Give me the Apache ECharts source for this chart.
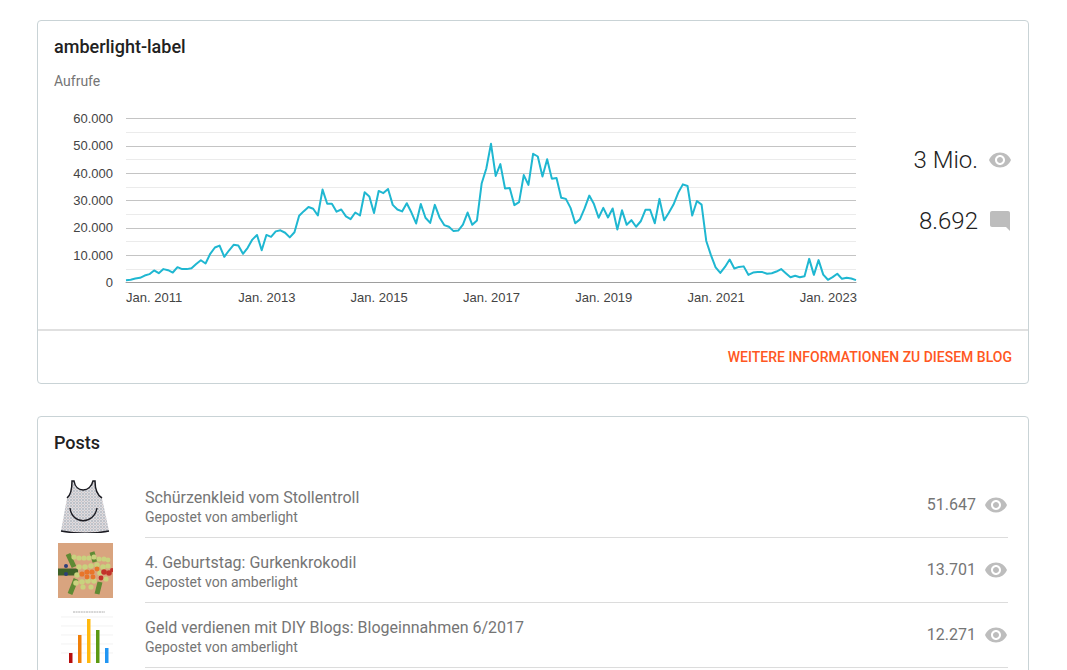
<!DOCTYPE html>
<html>
<head>
<meta charset="utf-8">
<title>amberlight-label</title>
<script src="https://cdn.jsdelivr.net/npm/echarts@6/dist/echarts.min.js"></script>
<style>
html,body{margin:0;padding:0;background:#fff;width:1067px;height:670px;overflow:hidden;font-family:Roboto,sans-serif;}
.abs{position:absolute;white-space:nowrap;}
.card{position:absolute;left:37px;width:990px;border:1px solid #c9d3d6;border-radius:4px;box-sizing:content-box;}
.title{font-size:18px;font-weight:500;color:#212121;line-height:20px;}
.gray{color:#757575;}
.eye{position:absolute;fill:#bdbdbd;}
.line{position:absolute;height:1px;background:#dcdcdc;}
</style>
</head>
<body>
<svg width="0" height="0" style="position:absolute">
  <symbol id="eye" viewBox="0 0 24 24"><path d="M12 4.5C7 4.5 2.73 7.61 1 12c1.73 4.39 6 7.5 11 7.5s9.27-3.11 11-7.5c-1.73-4.39-6-7.5-11-7.5zM12 17c-2.76 0-5-2.24-5-5s2.24-5 5-5 5 2.24 5 5-2.24 5-5 5zm0-8c-1.66 0-3 1.34-3 3s1.34 3 3 3 3-1.34 3-3-1.34-3-3-3z"/></symbol>
  <pattern id="dots" width="3" height="3" patternUnits="userSpaceOnUse">
    <rect width="3" height="3" fill="#dcdde0"/><circle cx="1" cy="1" r="0.7" fill="#8f93a0"/><circle cx="2.4" cy="2.3" r="0.4" fill="#b98f8f"/>
  </pattern>
</svg>

<div class="card" style="top:20px;height:362px;"></div>
<div class="abs title" style="left:54px;top:37px;">amberlight-label</div>
<div class="abs gray" style="left:54px;top:73px;font-size:14px;line-height:16px;">Aufrufe</div>
<div id="echarts_line" style="position:absolute;left:0;top:100px;width:1067px;height:210px;"></div>

<div class="abs" id="total_views" style="right:89px;top:146px;font-size:24px;font-weight:300;color:#212121;line-height:28px;"></div>
<svg class="eye" style="left:988px;top:148px;" width="24" height="24"><use href="#eye"/></svg>
<div class="abs" id="total_comments" style="right:89px;top:207px;font-size:24px;font-weight:300;color:#212121;line-height:28px;"></div>
<svg class="eye" style="left:988px;top:209px;" width="24" height="24"><path d="M22 4c0-1.1-.9-2-2-2H4c-1.1 0-2 .9-2 2v12c0 1.1.9 2 2 2h14l4 4V4z"/></svg>

<div class="line" style="left:38px;top:329px;width:990px;height:2px;background:#e0e0e0;"></div>
<div class="abs" style="right:55px;top:349px;font-size:14px;font-weight:500;color:#ff5722;line-height:16px;">WEITERE INFORMATIONEN ZU DIESEM BLOG</div>

<div class="card" style="top:416px;height:300px;"></div>
<div class="abs title" style="left:54px;top:433px;">Posts</div>

<!-- Vorschaubilder -->
<svg class="abs" style="left:58px;top:478px;" width="55" height="55" viewBox="0 0 55 55">
  <path d="M14 3 L16 3 C18 15 32 15 35 3 L37 3 C37 10 39 17 44 20 L51 53 C35 56 20 56 3 53 L9 20 C13 17 14 10 14 3 Z" fill="url(#dots)"/>
  <path d="M9 20 C13 17 14 10 14 3 L16 3 C18 15 32 15 35 3 L37 3 C37 10 39 17 44 20 M3 53 C20 56 35 56 51 53" fill="none" stroke="#1b1b22" stroke-width="1.5"/>
  <path d="M12 30 C14 47 36 47 39 30" fill="none" stroke="#1b1b22" stroke-width="1.4"/>
</svg>
<svg class="abs" style="left:58px;top:543px;" width="55" height="55" viewBox="0 0 55 55">
  <rect width="55" height="55" fill="#d9a47f"/>
  <path d="M0 29 L20 29" stroke="#3f6128" stroke-width="7"/>
  <path d="M10 11 L16 24 M12 51 L18 36 M39 51 L42 39 M34 9 L37 19" stroke="#5f8a34" stroke-width="5"/>
  <g fill="#c9d27e">
    <circle cx="16" cy="14" r="2.6"/><circle cx="21" cy="15" r="2.6"/><circle cx="26" cy="15" r="2.6"/><circle cx="31" cy="15" r="2.6"/><circle cx="36" cy="14" r="2.6"/><circle cx="41" cy="16" r="2.6"/><circle cx="46" cy="16" r="2.6"/><circle cx="50" cy="17" r="2.4"/>
    <circle cx="21" cy="24" r="2.8"/><circle cx="27" cy="24" r="2.8"/><circle cx="33" cy="23" r="2.8"/><circle cx="39" cy="22" r="2.8"/><circle cx="45" cy="24" r="2.8"/><circle cx="50" cy="23" r="2.6"/>
    <circle cx="19" cy="32" r="2.8"/><circle cx="42" cy="30" r="2.8"/>
    <circle cx="18" cy="40" r="2.8"/><circle cx="24" cy="39" r="2.8"/><circle cx="30" cy="38" r="2.8"/><circle cx="36" cy="38" r="2.8"/><circle cx="48" cy="36" r="2.6"/><circle cx="25" cy="44" r="2.6"/><circle cx="33" cy="44" r="2.6"/>
  </g>
  <g fill="#e8752a"><circle cx="24" cy="31" r="2.6"/><circle cx="29" cy="29" r="2.6"/><circle cx="34" cy="29" r="2.6"/><circle cx="39" cy="26" r="2.4"/><circle cx="29" cy="34" r="2.4"/><circle cx="35" cy="34" r="2.4"/></g>
  <g fill="#c2312a"><circle cx="46" cy="29" r="2.8"/><circle cx="51" cy="30" r="2.8"/><circle cx="43" cy="35" r="2.4"/><circle cx="54" cy="27" r="2"/></g>
  <circle cx="8" cy="23" r="2" fill="#2d3f7a"/><circle cx="8" cy="31" r="2" fill="#2d3f7a"/>
</svg>
<svg class="abs" style="left:58px;top:608px;" width="55" height="55" viewBox="0 0 55 55">
  <rect width="55" height="55" fill="#fff"/>
  <path d="M15 4 H47" stroke="#9a9a9a" stroke-width="0.8" stroke-dasharray="2 0.6"/>
  <path d="M3 9 H55 M3 18 H55 M3 27 H55 M3 36 H55 M3 45 H55" stroke="#ececec" stroke-width="0.7"/>
  <rect x="11" y="45" width="3.5" height="10" fill="#b70c0c"/>
  <rect x="20" y="27" width="3.5" height="28" fill="#f07f09"/>
  <rect x="29" y="11" width="3.5" height="44" fill="#ffb90f"/>
  <rect x="38" y="22" width="3.5" height="33" fill="#5c9a12"/>
  <rect x="47" y="40" width="3.5" height="15" fill="#2196f3"/>
</svg>

<div id="post_list"></div>

<script type="text/javascript">
var yearLabels = ['2011', '2012', '2013', '2014', '2015', '2016', '2017', '2018', '2019', '2020', '2021', '2022', '2023', '2024'];
var monthlyViews = [
    850, 1000, 1450, 1700, 2550, 3050, 4400, 3400, 4900, 4500, 3650, 5600,
    4900, 4900, 5250, 6800, 8150, 6950, 10500, 12800, 13500, 9400, 11700, 13800,
    13500, 10500, 12700, 15700, 17400, 11800, 17400, 16700, 18700, 19100, 18200, 16500,
    18400, 24400, 26100, 27600, 27000, 24500, 34000, 28800, 28800, 25900, 26700, 24200,
    23200, 25600, 24500, 33000, 31500, 25400, 33500, 32700, 34200, 28400, 26700, 26000,
    29000, 25600, 21600, 28700, 23700, 21800, 28400, 23800, 21000, 20400, 18800, 19000,
    21200, 25600, 21100, 22700, 36200, 41700, 50750, 39000, 43300, 34400, 34600, 28300,
    29400, 39300, 35700, 47100, 46100, 38800, 45100, 38000, 38200, 31000, 30600, 27300,
    21700, 23100, 27100, 31800, 28700, 23700, 27300, 23800, 27100, 19400, 26400, 21100,
    22800, 20400, 22400, 26600, 26600, 21700, 30600, 22800, 25500, 28500, 32800, 35900,
    35300, 24500, 29800, 28500, 15200, 10000, 5500, 3500, 5700, 8400, 5100, 5700,
    5900, 2800, 3650, 3800, 3800, 3200, 3400, 4000, 4900, 3400, 1950, 2450,
    1950, 2300, 8650, 2800, 8200, 2900, 1000, 1950, 3200, 1350, 1700, 1450,
    850
];
var postTitles = ['Schürzenkleid vom Stollentroll', '4. Geburtstag: Gurkenkrokodil', 'Geld verdienen mit DIY Blogs: Blogeinnahmen 6/2017'];
var postViews = ['51.647', '13.701', '12.271'];
var totalViews = '3 Mio.';
var totalComments = '8.692';

// deutsche Tausenderpunkte
function formatde(v) {
    return String(v).replace(/\B(?=(\d{3})+$)/g, '.');
}

function getmonths() {
    var months = [];
    for (var i = 0; i < monthlyViews.length; i++) {
        var year = yearLabels[Math.floor(i / 12)];
        months.push(i % 12 == 0 ? 'Jan. ' + year : year + '-' + (i % 12 + 1));
    }
    return months;
}

function get_line_echarts() {
    var myChart = echarts.init(document.getElementById('echarts_line'), null, {renderer: 'svg'});
    var option = {
        animation: false,
        grid: {left: 126, right: 211, top: 18.5, height: 164},
        xAxis: {
            type: 'category',
            boundaryGap: false,
            data: getmonths(),
            axisLine: {lineStyle: {color: '#9e9e9e', width: 1}},
            axisTick: {show: false},
            splitLine: {show: false},
            axisLabel: {
                interval: 23,
                align: 'left',
                margin: 8,
                fontFamily: 'Liberation Sans',
                fontSize: 13,
                color: '#444444'
            }
        },
        yAxis: {
            type: 'value',
            min: 0,
            max: 60000,
            interval: 10000,
            axisLine: {show: false},
            axisTick: {show: false},
            splitLine: {lineStyle: {color: '#c4c4c4', width: 1}},
            minorTick: {show: false, splitNumber: 2},
            minorSplitLine: {show: true, lineStyle: {color: '#ebebeb', width: 1}},
            axisLabel: {
                margin: 13,
                fontFamily: 'Liberation Sans',
                fontSize: 13,
                color: '#444444',
                formatter: formatde
            }
        },
        series: [{
            name: 'Aufrufe',
            type: 'line',
            data: monthlyViews,
            showSymbol: false,
            smooth: false,
            lineStyle: {color: '#1fb7d1', width: 2, join: 'round'}
        }]
    };
    myChart.setOption(option);
}

function get_post_list() {
    var html = '';
    for (var i = 0; i < postTitles.length; i++) {
        var top = 65 * i;
        html += '<div class="abs gray" style="left:145px;top:' + (488 + top) + 'px;font-size:16px;line-height:20px;">' + postTitles[i] + '</div>';
        html += '<div class="abs gray" style="left:145px;top:' + (509 + top) + 'px;font-size:14px;line-height:16px;">Gepostet von amberlight</div>';
        html += '<div class="abs gray" style="right:91px;top:' + (495 + top) + 'px;font-size:16px;line-height:20px;">' + postViews[i] + '</div>';
        html += '<svg class="eye" style="left:984px;top:' + (493 + top) + 'px;" width="24" height="24"><use href="#eye"/></svg>';
        html += '<div class="line" style="left:145px;top:' + (537 + top) + 'px;width:863px;"></div>';
    }
    document.getElementById('post_list').innerHTML = html;
}

document.getElementById('total_views').textContent = totalViews;
document.getElementById('total_comments').textContent = totalComments;
get_line_echarts();
get_post_list();
</script>
</body>
</html>
